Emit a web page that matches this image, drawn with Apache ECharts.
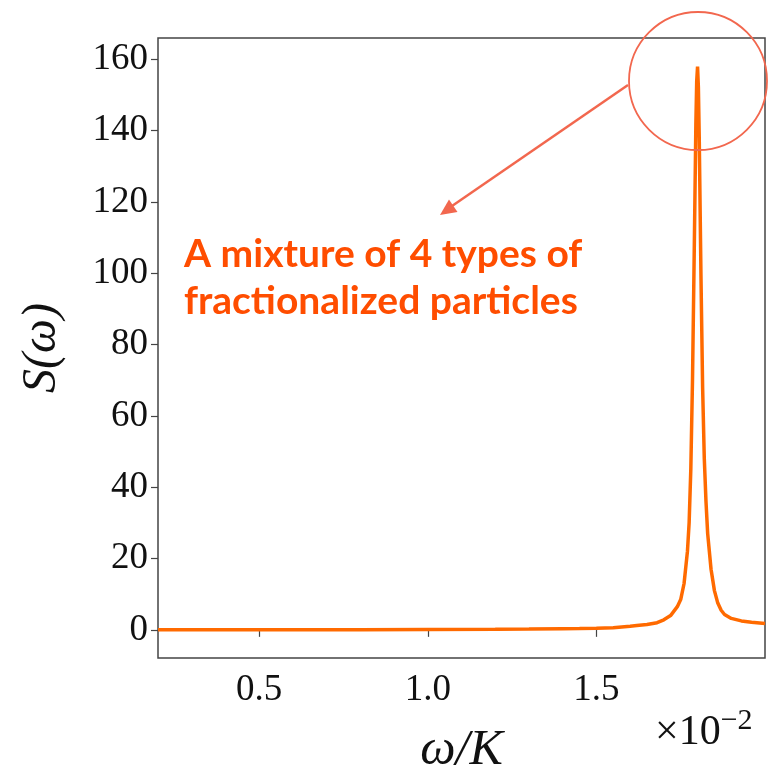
<!DOCTYPE html>
<html>
<head>
<meta charset="utf-8">
<script src="https://cdn.jsdelivr.net/npm/echarts@6.0.0/dist/echarts.min.js"></script>
<style>
  html, body { margin: 0; padding: 0; background: #fff; }
  #main { width: 769px; height: 772px; }
</style>
</head>
<body>
<div id="main"></div>
<script>
// omega / K (in units of 1e-2) and S(omega)
var omega = [0.2, 0.4, 0.6, 0.8, 1.0, 1.2, 1.3, 1.4, 1.45, 1.5, 1.55, 1.6, 1.62, 1.65, 1.68, 1.70,
  1.72, 1.74, 1.75, 1.76, 1.77, 1.775, 1.78, 1.785, 1.79, 1.795, 1.7975, 1.80, 1.8025, 1.805,
  1.81, 1.815, 1.82, 1.825, 1.83, 1.84, 1.85, 1.86, 1.87, 1.88, 1.90, 1.93, 1.96, 2.0];
var S = [0.0, 0.0, 0.0, 0.05, 0.1, 0.15, 0.2, 0.3, 0.35, 0.45, 0.6, 1.0, 1.2, 1.5, 2.0, 2.8,
  4.0, 6.5, 8.5, 13, 22, 30, 45, 70, 105, 142, 154, 158, 152, 138,
  100, 68, 48, 36, 27, 17, 11, 7.5, 5.5, 4.3, 3.2, 2.5, 2.1, 1.8];
var xTicks = [0.5, 1.0, 1.5];
var yTicks = [0, 20, 40, 60, 80, 100, 120, 140, 160];

var chart = echarts.init(document.getElementById("main"));
var serif = "Liberation Serif";
var points = omega.map(function (w, i) { return [w, S[i]]; });

var option = {
  animation: false,
  backgroundColor: "#fff",
  grid: {
    left: 158, right: 4, top: 38, bottom: 114,
    outerBoundsMode: "none",
    containLabel: false,
    show: true, borderColor: "#444", borderWidth: 1.5, backgroundColor: "transparent"
  },
  xAxis: {
    type: "value",
    min: 0.2,
    max: 2.0,
    name: "ω/K",
    nameLocation: "middle",
    nameGap: 68,
    nameTextStyle: { fontFamily: serif, fontStyle: "italic", fontSize: 50, color: "#111" },
    axisLine: { show: false },
    splitLine: { show: false },
    axisTick: { show: true, inside: false, length: 7, customValues: xTicks, lineStyle: { color: "#444", width: 1.2 } },
    axisLabel: {
      customValues: xTicks,
      margin: 14,
      fontFamily: serif, fontSize: 37, color: "#111",
      formatter: function (v) { return v.toFixed(1); }
    }
  },
  yAxis: {
    type: "value",
    min: -7.9,
    max: 166,
    name: "S(ω)",
    nameLocation: "middle",
    nameRotate: 90,
    nameGap: 92,
    nameTextStyle: { fontFamily: serif, fontStyle: "italic", fontSize: 48, color: "#111" },
    axisLine: { show: false },
    splitLine: { show: false },
    axisTick: { show: true, inside: false, length: 7, customValues: yTicks, lineStyle: { color: "#444", width: 1.2 } },
    axisLabel: {
      customValues: yTicks,
      margin: 10,
      fontFamily: serif, fontSize: 37, color: "#111"
    }
  },
  series: [{
    type: "line",
    data: points,
    showSymbol: false,
    smooth: false,
    lineStyle: { color: "#ff6a00", width: 3.5 }
  }],
  graphic: [
    {
      type: "circle",
      shape: { cx: 698, cy: 81, r: 69 },
      style: { fill: "none", stroke: "#f2674e", lineWidth: 1.8 },
      z: 100
    },
    {
      type: "line",
      shape: { x1: 628, y1: 85, x2: 452, y2: 206 },
      style: { stroke: "#f2674e", lineWidth: 2.5 },
      z: 100
    },
    {
      type: "polygon",
      shape: { points: [[440, 215], [457.5, 212], [449, 199.5]] },
      style: { fill: "#f2674e" },
      z: 100
    },
    {
      type: "text",
      left: 184,
      top: 231,
      style: {
        text: "A mixture of 4 types of\nfractionalized particles",
        fontFamily: "Lato", fontWeight: "bold", fontSize: 39, lineHeight: 47,
        fill: "#ff4d00"
      },
      z: 100
    },
    {
      type: "text",
      left: 655,
      top: 706,
      style: {
        text: "×10{sup|−2}",
        fontFamily: serif, fontSize: 42, fill: "#111",
        rich: { sup: { fontFamily: serif, fontSize: 30, verticalAlign: "top", padding: [0, 0, 24, 0] } }
      },
      z: 100
    }
  ]
};
chart.setOption(option);
</script>
</body>
</html>
